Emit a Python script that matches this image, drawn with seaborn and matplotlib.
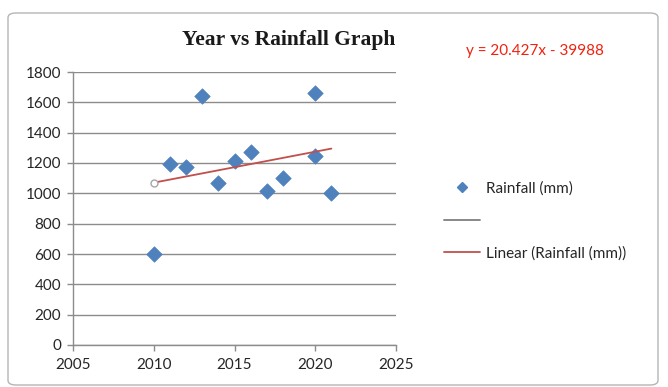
import numpy as np
import pandas as pd
import matplotlib
matplotlib.use("Agg")
import matplotlib.pyplot as plt
from matplotlib.lines import Line2D
from matplotlib.patches import FancyBboxPatch
import seaborn as sns

# Yearly rainfall observations
years = [2010, 2011, 2012, 2013, 2014, 2015, 2016, 2017, 2018, 2020, 2020, 2021]
rainfall_mm = [600, 1195, 1175, 1640, 1070, 1210, 1270, 1015, 1100, 1245, 1660, 1000]

# Linear trendline coefficients
trend_slope = 20.427
trend_intercept = -39988

x_ticks = [2005, 2010, 2015, 2020, 2025]
y_ticks = [0, 200, 400, 600, 800, 1000, 1200, 1400, 1600, 1800]

title = "Year vs Rainfall Graph"
series_label = "Rainfall (mm)"
trend_label = "Linear (Rainfall (mm))"

df = pd.DataFrame({"Year": years, "Rainfall (mm)": rainfall_mm})

sns.set_theme(style="white")
plt.rcParams["font.family"] = ["Lato", "DejaVu Sans"]

W, H = 668, 387
fig = plt.figure(figsize=(W / 100, H / 100), dpi=100)
fig.patch.set_facecolor("white")

# chart frame (outline only, drawn behind the axes)
frame = FancyBboxPatch((8 / W, 1 - 385 / H), 650 / W, 372 / H,
                       boxstyle="round,pad=0,rounding_size=0.012",
                       transform=fig.transFigure, facecolor="none",
                       edgecolor="#B5B5B5", linewidth=1.0, zorder=-1)
fig.patches.append(frame)

ax = fig.add_axes([73 / W, 1 - 345 / H, 323 / W, 273 / H])
ax.set_facecolor("none")

grid_c = "#8C8C8C"
blue = "#4F81BD"
trend_c = "#C0504D"

sns.scatterplot(data=df, x="Year", y="Rainfall (mm)", ax=ax, marker="D",
                s=62, color=blue, edgecolor=blue, linewidth=0.5, zorder=3,
                legend=False)

tx = np.array([min(years), max(years)])
ty = trend_slope * tx + trend_intercept
ax.plot(tx, ty, color=trend_c, linewidth=1.3, zorder=4)
ax.plot(tx[:1], ty[:1], marker="o", markersize=5, markerfacecolor="white",
        markeredgecolor="#A6A6A6", markeredgewidth=1.0, linestyle="none", zorder=5)

ax.set_xlim(2005, 2025)
ax.set_ylim(0, 1800)
ax.set_xticks(x_ticks)
ax.set_yticks(y_ticks)
ax.set_xlabel("")
ax.set_ylabel("")
ax.set_axisbelow(True)
ax.yaxis.grid(True, color=grid_c, linewidth=1.0)
ax.xaxis.grid(False)
for s in ["top", "right"]:
    ax.spines[s].set_visible(False)
for s in ["left", "bottom"]:
    ax.spines[s].set_color(grid_c)
    ax.spines[s].set_linewidth(1.0)
ax.tick_params(axis="both", which="major", direction="out", length=4.3,
               width=1.0, color=grid_c, labelsize=11, labelcolor="#262626",
               pad=4.3, left=True, bottom=True)
ax.tick_params(axis="x", pad=5)

fig.text(289 / W, 1 - 40 / H, title, ha="center", va="center",
         fontsize=15.5, fontweight="bold", family=["Liberation Serif"],
         color="#1A1A1A")

fig.text(535 / W, 1 - 51 / H, "y = 20.427x - 39988", ha="center",
         va="center", fontsize=11, color="#F0220F")

handles = [
    Line2D([], [], marker="D", color=blue, linestyle="none", markersize=5.5),
    Line2D([], [], color="#7F7F7F", linewidth=1.3),
    Line2D([], [], color=trend_c, linewidth=1.3),
]
labels = [series_label, " ", trend_label]
fig.legend(handles, labels, loc="center left",
           bbox_to_anchor=(436 / W, 1 - 221 / H), frameon=False,
           fontsize=11, labelcolor="#262626", handlelength=2.4,
           handletextpad=0.35, labelspacing=1.2, borderpad=0)

fig.savefig("out.png", dpi=100, facecolor="white")
